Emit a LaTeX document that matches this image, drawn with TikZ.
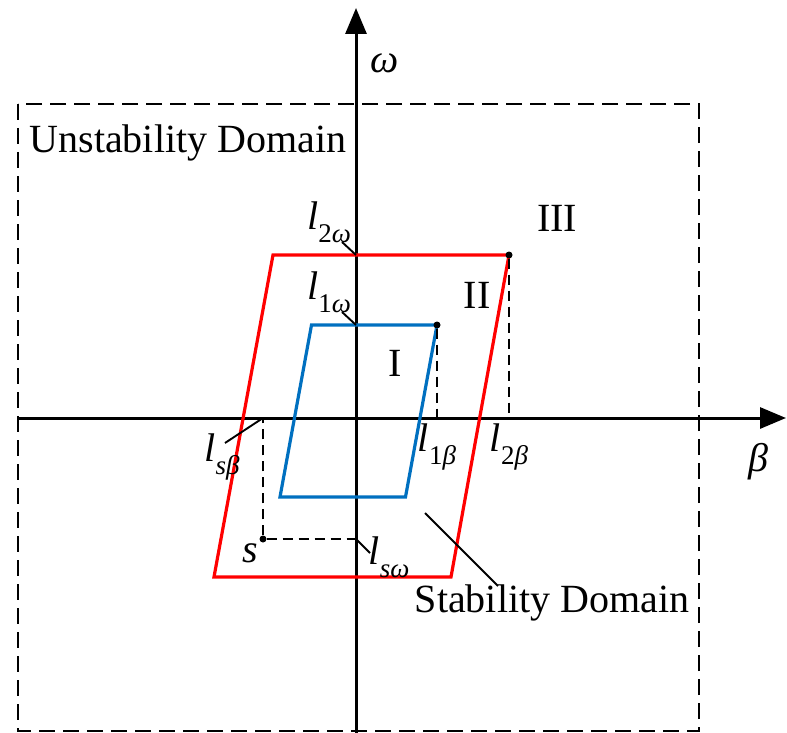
\documentclass[tikz,border=0pt]{standalone}
\usepackage{fontspec}
\setmainfont{Liberation Serif}
\usetikzlibrary{arrows.meta}
\definecolor{myblue}{RGB}{0,112,192}
\newcommand{\lsub}[1]{\textit{l}\raisebox{-0.32em}{\fontsize{27}{30}\selectfont #1}}
\tikzset{
  axis/.style={line width=3pt,-{Triangle[length=26pt,width=21pt]}},
  outerbox/.style={line width=2.8pt,dash pattern=on 16pt off 8pt},
  guide/.style={line width=2.1pt,dash pattern=on 10pt off 6pt},
  redpar/.style={draw=red,line width=3.2pt,line join=miter},
  bluepar/.style={draw=myblue,line width=3.2pt,line join=miter},
  leader/.style={line width=1.9pt},
  lbl/.style={inner sep=0pt,font=\fontsize{40}{44}\selectfont},
  dot/.style={circle,fill=black,inner sep=0pt,minimum size=7pt}
}
\begin{document}
\begin{tikzpicture}[x=1pt,y=-1pt]
\useasboundingbox (0,0) rectangle (787,733);
% outer dashed domain
\coordinate (ob1) at (18,104);
\coordinate (ob2) at (699,731);
\draw[outerbox] (ob1) rectangle (ob2);
% axes
\coordinate (xs) at (18,418);
\coordinate (xe) at (786,418);
\coordinate (ys) at (356,733);
\coordinate (ye) at (356,8);
\draw[axis] (xs) -- (xe);
\draw[axis] (ys) -- (ye);
% red parallelogram
\coordinate (r1) at (273,255);
\coordinate (r2) at (509,255);
\coordinate (r3) at (451,577);
\coordinate (r4) at (214,577);
\draw[redpar] (r1) -- (r2) -- (r3) -- (r4) -- cycle;
% blue parallelogram
\coordinate (b1) at (311.5,325);
\coordinate (b2) at (437,325);
\coordinate (b3) at (405.5,497);
\coordinate (b4) at (280,497);
\draw[bluepar] (b1) -- (b2) -- (b3) -- (b4) -- cycle;
% guide lines
\coordinate (r2x) at (509,418);
\coordinate (b2x) at (437,418);
\coordinate (sx) at (263,418);
\coordinate (sy) at (356,539);
\node[dot] (s) at (263,539) {};
\node[dot] (dr) at (r2) {};
\node[dot] (db) at (b2) {};
\draw[guide] (dr) -- (r2x);
\draw[guide] (db) -- (b2x);
\draw[guide] (s) -- (sx);
\draw[guide] (s) -- (sy);
% axis intersections for leaders
\coordinate (a2w) at (356,255);
\coordinate (a1w) at (356,325);
% labels
\node[lbl] at (385,63) {\textit{ω}};
\node[lbl] at (758,462) {\textit{β}};
\node[lbl] (uns) at (188,143) {Unstability Domain};
\node[lbl] (stab) at (552,603) {Stability Domain};
\node[lbl] at (557,218) {III};
\node[lbl] at (477,295) {II};
\node[lbl] at (395,363) {I};
\node[lbl] (l2w) at (329,222) {\lsub{2\textit{ω}}};
\node[lbl] (l1w) at (329,292) {\lsub{1\textit{ω}}};
\node[lbl] (l1b) at (437,447) {\lsub{1\textit{β}}};
\node[lbl] (l2b) at (509,447) {\lsub{2\textit{β}}};
\node[lbl] (lsb) at (222,457) {\lsub{\textit{sβ}}};
\node[lbl] (lsw) at (389,557) {\lsub{\textit{sω}}};
\node[lbl] (slab) at (250,553) {\textit{s}};
% leaders
\coordinate (l2wl) at (342,242);
\coordinate (l1wl) at (342,312);
\coordinate (lsbl) at (225,443);
\coordinate (lswl) at (370,553);
\coordinate (stabl) at (425,513);
\coordinate (stabe) at (498,586);
\draw[leader] (l2wl) -- (a2w);
\draw[leader] (l1wl) -- (a1w);
\draw[leader] (lsbl) -- (sx);
\draw[leader] (lswl) -- (sy);
\draw[leader] (stabl) -- (stabe);
\end{tikzpicture}
\end{document}
